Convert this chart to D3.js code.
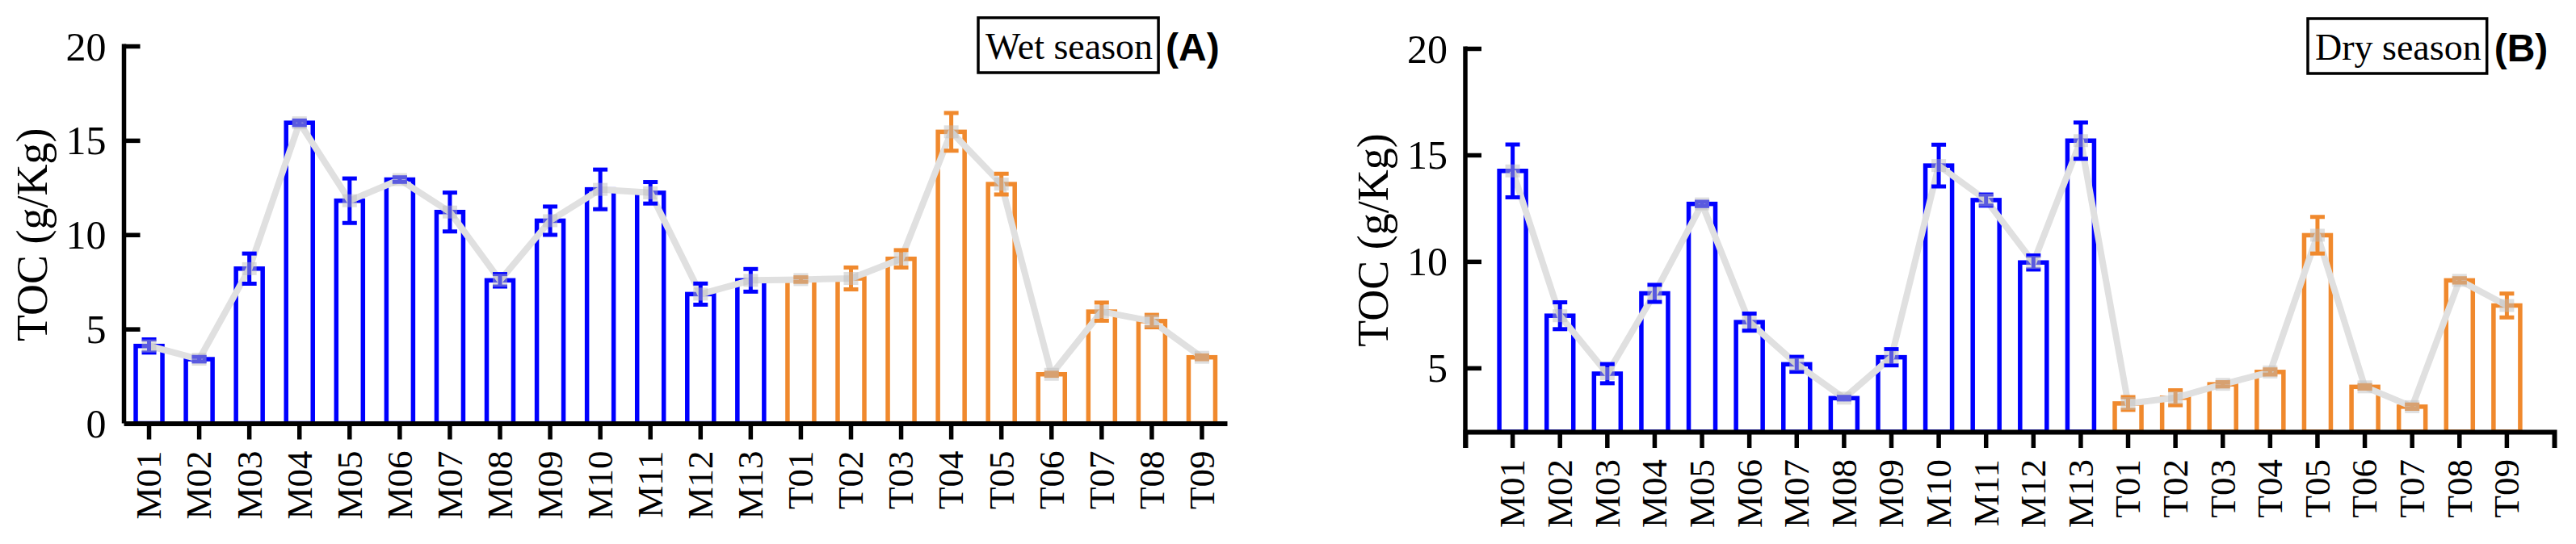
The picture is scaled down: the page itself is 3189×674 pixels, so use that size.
<!DOCTYPE html>
<html>
<head>
<meta charset="utf-8">
<script src="https://cdn.jsdelivr.net/npm/d3@7"></script>
<style>
  html, body { margin: 0; padding: 0; background: #fff; }
  svg { display: block; }
</style>
</head>
<body>
<svg id="chart" width="3189" height="674"></svg>
<script>
// ---------- data ----------
const categories = ["M01","M02","M03","M04","M05","M06","M07","M08","M09","M10","M11","M12","M13",
                    "T01","T02","T03","T04","T05","T06","T07","T08","T09"];
const wetMean = [4.10, 3.40, 8.20, 15.93, 11.80, 12.92, 11.20, 7.58, 10.74, 12.40, 12.22, 6.85, 7.58,
                 7.62, 7.68, 8.72, 15.45, 12.68, 2.60, 5.92, 5.42, 3.50];
const wetSD   = [0.35, 0.12, 0.80, 0.12, 1.18, 0.12, 1.03, 0.33, 0.75, 1.05, 0.57, 0.56, 0.60,
                 0.12, 0.58, 0.46, 1.00, 0.55, 0.08, 0.48, 0.33, 0.10];
const dryMean = [14.25, 7.45, 4.73, 8.50, 12.70, 7.15, 5.17, 3.58, 5.50, 14.50, 12.88, 9.95, 15.67,
                 3.33, 3.60, 4.23, 4.81, 11.23, 4.11, 3.18, 9.11, 7.93];
const drySD   = [1.24, 0.63, 0.45, 0.40, 0.10, 0.40, 0.35, 0.06, 0.38, 0.98, 0.26, 0.33, 0.85,
                 0.30, 0.35, 0.10, 0.12, 0.86, 0.08, 0.10, 0.10, 0.56];
const yTicksWet = [0, 5, 10, 15, 20];
const yTicksDry = [5, 10, 15, 20];
const yTitle = "TOC (g/Kg)";

// ---------- style ----------
const BLUE = "#0000FF", ORANGE = "#F0892D";
const colorOf = c => c.startsWith("M") ? BLUE : ORANGE;
const SERIF = "'Liberation Serif', 'Times New Roman', serif";
const SANS = "'Liberation Sans', Arial, sans-serif";

const svg = d3.select("#chart");

function panel(cfg) {
  const g = svg.append("g");
  const x = d3.scaleBand().domain(categories).range([cfg.x0, cfg.x1])
              .paddingInner(0).paddingOuter(cfg.outerPad);
  const y = d3.scaleLinear().domain(cfg.yDomain).range([cfg.yBottom, cfg.yTop]);
  const barW = 33;
  const cx = c => x(c) + x.bandwidth() / 2;
  const rows = categories.map((c, i) => ({ c, v: cfg.mean[i], sd: cfg.sd[i] }));

  // bars
  g.selectAll("rect.bar").data(rows).join("rect")
    .attr("class", "bar")
    .attr("x", d => cx(d.c) - barW / 2)
    .attr("y", d => y(d.v))
    .attr("width", barW)
    .attr("height", d => y(cfg.yDomain[0]) - y(d.v))
    .attr("fill", "#fff")
    .attr("stroke", d => colorOf(d.c))
    .attr("stroke-width", 5.5);

  // connecting line
  const line = d3.line().x(d => cx(d.c)).y(d => y(d.v));
  g.append("path").datum(rows)
    .attr("d", line)
    .attr("fill", "none")
    .attr("stroke", "#E0E0E0")
    .attr("stroke-width", 8)
    .attr("stroke-linejoin", "round");

  // error bars
  const eb = g.selectAll("g.eb").data(rows).join("g").attr("class", "eb")
    .attr("stroke", d => colorOf(d.c)).attr("stroke-width", 5);
  eb.append("line")
    .attr("x1", d => cx(d.c)).attr("x2", d => cx(d.c))
    .attr("y1", d => y(d.v + d.sd)).attr("y2", d => y(d.v - d.sd));
  eb.append("line")
    .attr("x1", d => cx(d.c) - 9).attr("x2", d => cx(d.c) + 9)
    .attr("y1", d => y(d.v + d.sd)).attr("y2", d => y(d.v + d.sd));
  eb.append("line")
    .attr("x1", d => cx(d.c) - 9).attr("x2", d => cx(d.c) + 9)
    .attr("y1", d => y(d.v - d.sd)).attr("y2", d => y(d.v - d.sd));

  // markers
  g.selectAll("rect.mk").data(rows).join("rect")
    .attr("class", "mk")
    .attr("x", d => cx(d.c) - 9)
    .attr("y", d => y(d.v) - 8)
    .attr("width", 18).attr("height", 16)
    .attr("fill", "rgb(189,189,189)").attr("fill-opacity", 0.48);

  // y axis
  const ya = g.append("g").attr("transform", `translate(${cfg.x0},0)`)
    .call(d3.axisLeft(y).tickValues(cfg.yTicks).tickSizeInner(-20).tickSizeOuter(0).tickPadding(22));
  ya.select(".domain").attr("stroke", "#000").attr("stroke-width", 5.5)
    .attr("d", `M0,${cfg.yTop - 2.5}V${cfg.yAxisBottom}`);
  ya.selectAll(".tick line").attr("stroke", "#000").attr("stroke-width", 5.5);
  ya.selectAll(".tick text").attr("font-family", SERIF).attr("font-size", 50).attr("fill", "#000")
    .attr("dy", "0.34em");

  // x axis
  const xa = g.append("g").attr("transform", `translate(0,${cfg.yBottom})`)
    .call(d3.axisBottom(x).tickSizeInner(20).tickSizeOuter(cfg.outerTick));
  xa.select(".domain").attr("stroke", "#000").attr("stroke-width", 6).attr("fill", "none");
  xa.selectAll(".tick line").attr("stroke", "#000").attr("stroke-width", 5.5);
  xa.selectAll(".tick text")
    .attr("font-family", SERIF).attr("font-size", 45).attr("fill", "#000")
    .attr("transform", "rotate(-90)")
    .attr("text-anchor", "end")
    .attr("x", -34).attr("y", 0).attr("dy", "0.33em");

  // y title
  g.append("text")
    .attr("transform", `translate(${cfg.x0 - 96},${(cfg.yTop + cfg.yBottom) / 2}) rotate(-90)`)
    .attr("text-anchor", "middle")
    .attr("font-family", SERIF).attr("font-size", 54).attr("fill", "#000")
    .text(yTitle);

  // season box + panel letter
  const box = g.append("rect");
  const t = g.append("text").attr("x", cfg.boxTextX).attr("y", cfg.boxBaseline)
    .attr("font-family", SERIF).attr("font-size", 46).attr("fill", "#000").text(cfg.season);
  const tw = t.node().getComputedTextLength();
  box.attr("x", cfg.boxTextX - 9).attr("y", cfg.boxBaseline - 51)
    .attr("width", tw + 16).attr("height", 68)
    .attr("fill", "none").attr("stroke", "#000").attr("stroke-width", 3.5);
  g.append("text").attr("x", cfg.boxTextX + tw + 16)
    .attr("y", cfg.boxBaseline + 2)
    .attr("font-family", SANS).attr("font-weight", "bold").attr("font-size", 48).attr("fill", "#000")
    .text(cfg.letter);
}

panel({
  x0: 153.5, x1: 1519, outerPad: 0, outerTick: 0,
  yDomain: [0, 20], yTop: 57, yBottom: 524.5, yAxisBottom: 524.5, yTicks: yTicksWet,
  mean: wetMean, sd: wetSD,
  season: "Wet season", letter: "(A)", boxTextX: 1220, boxBaseline: 73
});
panel({
  x0: 1814, x1: 3162, outerPad: 0.5, outerTick: 20,
  yDomain: [2, 20], yTop: 60, yBottom: 535, yAxisBottom: 555, yTicks: yTicksDry,
  mean: dryMean, sd: drySD,
  season: "Dry season", letter: "(B)", boxTextX: 2866, boxBaseline: 74
});
</script>
</body>
</html>
